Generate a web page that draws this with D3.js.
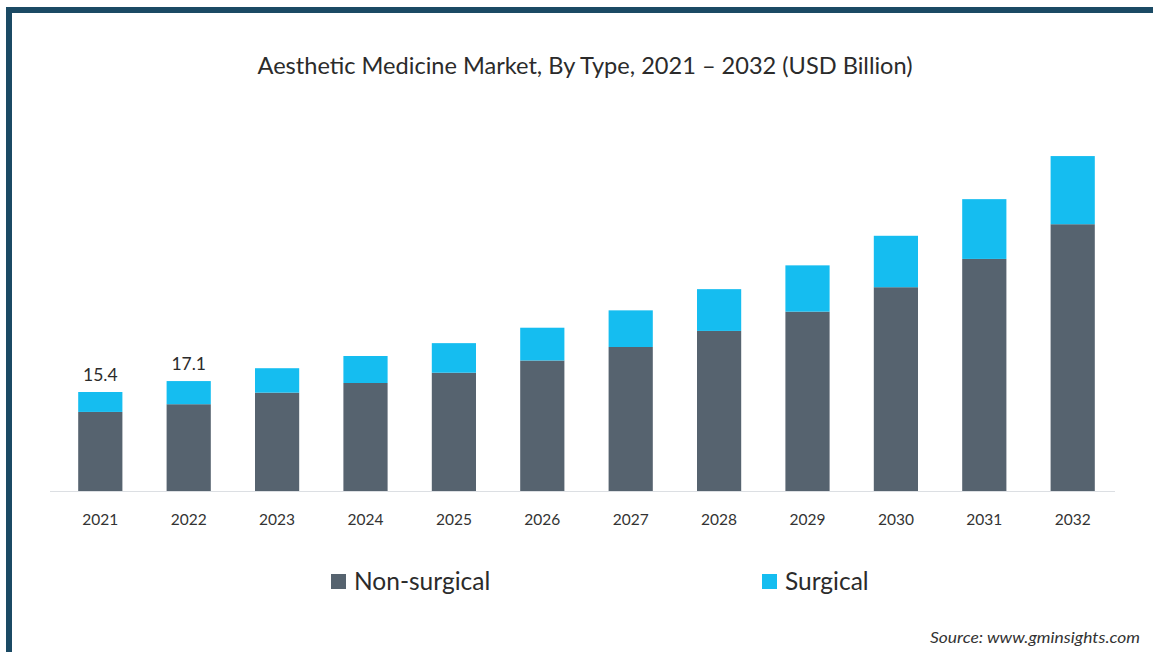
<!DOCTYPE html>
<html>
<head>
<meta charset="utf-8">
<script src="https://cdn.jsdelivr.net/npm/d3@7/dist/d3.min.js"></script>
<style>
  html, body { margin: 0; padding: 0; background: #fff; }
  svg { display: block; font-family: "Source Sans Pro", "Lato", "Open Sans", sans-serif; }
</style>
</head>
<body>
<svg id="chart" width="1153" height="652"></svg>
<script>
// Aesthetic medicine market by type, USD billion
const years = ["2021","2022","2023","2024","2025","2026","2027","2028","2029","2030","2031","2032"];
const nonSurgical = [12.3, 13.5, 15.3, 16.8, 18.4, 20.3, 22.4, 24.9, 27.9, 31.7, 36.1, 41.5];
const surgical    = [3.1, 3.6, 3.8, 4.2, 4.6, 5.1, 5.7, 6.5, 7.2, 8.0, 9.3, 10.6];
const seriesNames = ["Non-surgical", "Surgical"];
const labelledYears = ["2021", "2022"];

const colors = { "Non-surgical": "#56636f", "Surgical": "#15bdf0" };

const svg = d3.select("#chart");
const W = 1153, H = 652;

// frame
svg.append("rect")
  .attr("x", 9).attr("y", 10)
  .attr("width", W + 20).attr("height", H + 20)
  .attr("fill", "#fff")
  .attr("stroke", "#1b4a64").attr("stroke-width", 6);

// title
svg.append("text")
  .attr("x", 585).attr("y", 74)
  .attr("text-anchor", "middle")
  .attr("font-size", 22.5)
  .attr("fill", "#2b2b2b")
  .attr("textLength", 655).attr("lengthAdjust", "spacingAndGlyphs")
  .text("Aesthetic Medicine Market, By Type, 2021 \u2013 2032 (USD Billion)");

const baseline = 491;
const x = d3.scaleBand().domain(years).range([34, 1139]).paddingInner(0.5).paddingOuter(0.5);
const y = d3.scaleLinear().domain([0, 15.4]).range([baseline, baseline - 99]);

const rows = years.map((yr, i) => ({ year: yr, "Non-surgical": nonSurgical[i], "Surgical": surgical[i] }));
const stacked = d3.stack().keys(seriesNames)(rows);

// baseline
svg.append("line")
  .attr("x1", 50).attr("x2", 1115)
  .attr("y1", baseline + 0.5).attr("y2", baseline + 0.5)
  .attr("stroke", "#dcdfe3").attr("stroke-width", 1);

svg.append("g").selectAll("g")
  .data(stacked).join("g")
  .attr("fill", d => colors[d.key])
  .selectAll("rect")
  .data(d => d).join("rect")
  .attr("x", d => x(d.data.year))
  .attr("width", x.bandwidth())
  .attr("y", d => y(d[1]))
  .attr("height", d => y(d[0]) - y(d[1]));

// x axis labels
const xAxis = d3.axisBottom(x).tickSize(0).tickPadding(0);
const gx = svg.append("g").attr("transform", `translate(0,${baseline})`).call(xAxis);
gx.select(".domain").remove();
gx.selectAll("text")
  .attr("y", 34).attr("dy", null)
  .attr("font-size", 15.5)
  .attr("font-family", "\"Source Sans Pro\", \"Lato\", \"Open Sans\", sans-serif")
  .attr("fill", "#333");

// value labels on first bars
svg.append("g").selectAll("text")
  .data(rows.filter(r => labelledYears.includes(r.year))).join("text")
  .attr("x", d => x(d.year) + x.bandwidth() / 2)
  .attr("y", d => y(d["Non-surgical"] + d["Surgical"]) - 11)
  .attr("text-anchor", "middle")
  .attr("font-size", 17.5)
  .attr("fill", "#2b2b2b")
  .text(d => d3.format(".1f")(d["Non-surgical"] + d["Surgical"]));

// legend
const legendPos = [331, 762];
const lg = svg.append("g").selectAll("g")
  .data(seriesNames).join("g")
  .attr("transform", (d, i) => `translate(${legendPos[i]},574)`);
lg.append("rect").attr("width", 15).attr("height", 15).attr("fill", d => colors[d]);
lg.append("text")
  .attr("x", 23).attr("y", 16)
  .attr("font-size", 24.5)
  .attr("fill", "#2b2b2b")
  .text(d => d);

// source note
svg.append("text")
  .attr("x", 1140).attr("y", 643)
  .attr("text-anchor", "end")
  .attr("font-size", 16)
  .attr("font-style", "italic")
  .attr("fill", "#333")
  .attr("textLength", 210).attr("lengthAdjust", "spacingAndGlyphs")
  .text("Source: www.gminsights.com");
</script>
</body>
</html>
